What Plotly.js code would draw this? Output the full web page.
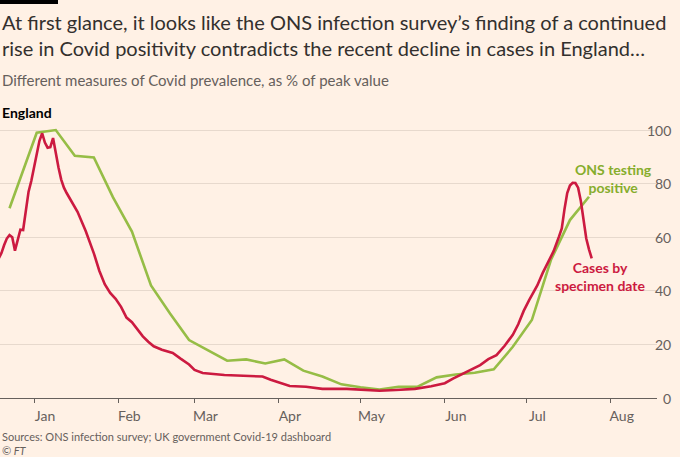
<!DOCTYPE html>
<html>
<head>
<meta charset="utf-8">
<script src="https://cdn.plot.ly/plotly-3.0.1.min.js"></script>
<style>
  html, body { margin: 0; padding: 0; background: #fff1e5; }
  #plot { width: 680px; height: 457px; }
</style>
</head>
<body>
<div id="plot"></div>
<script>
// Cases by specimen date, % of peak
var casesDates = [
  '2020-12-19','2020-12-20','2020-12-21','2020-12-22','2020-12-23','2020-12-24','2020-12-25',
  '2020-12-26','2020-12-27','2020-12-28','2020-12-29','2020-12-30','2020-12-31','2021-01-01',
  '2021-01-02','2021-01-03','2021-01-04','2021-01-05','2021-01-06','2021-01-07','2021-01-08',
  '2021-01-09','2021-01-10','2021-01-11','2021-01-12','2021-01-13','2021-01-15','2021-01-17',
  '2021-01-20','2021-01-22','2021-01-23','2021-01-25','2021-01-27','2021-01-29','2021-01-31',
  '2021-02-02','2021-02-04','2021-02-06','2021-02-08','2021-02-10','2021-02-12','2021-02-14',
  '2021-02-17','2021-02-21','2021-02-24','2021-02-27','2021-03-01','2021-03-04','2021-03-12',
  '2021-03-19','2021-03-26','2021-03-29','2021-04-01','2021-04-05','2021-04-11','2021-04-17',
  '2021-04-26','2021-05-03','2021-05-08','2021-05-14','2021-05-21','2021-05-27','2021-06-01',
  '2021-06-04','2021-06-09','2021-06-14','2021-06-17','2021-06-20','2021-06-23','2021-06-26',
  '2021-06-28','2021-06-30','2021-07-02','2021-07-05','2021-07-07','2021-07-09','2021-07-11',
  '2021-07-13','2021-07-14','2021-07-15','2021-07-16','2021-07-17','2021-07-18','2021-07-19',
  '2021-07-20','2021-07-21','2021-07-22','2021-07-23','2021-07-24','2021-07-25'
];
var casesValues = [
  52, 54, 57, 59.5, 60.8, 60, 55,
  59.5, 62.8, 62.7, 70.5, 77, 81, 86,
  91, 96, 98.8, 95.3, 93.4, 93.6, 97,
  91, 86, 81.5, 78.5, 76.5, 72.8, 69.5,
  62.3, 57, 54, 47.5, 42.5, 39.2, 37,
  34, 30, 28.3, 25.8, 23, 21, 19.3,
  18, 16.8, 14.6, 12.5, 10.5, 9.3, 8.6,
  8.2, 8.0, 6.8, 5.8, 4.5, 4.2, 3.4,
  3.4, 3.0, 2.7, 3.0, 3.4, 4.4, 5.5,
  7.2, 9.8, 12.3, 14.5, 16, 19.5, 23.6,
  27.5, 32.5, 36.5, 42, 46.7, 51, 54.8,
  60.3, 63.3, 70.5, 76.5, 79.3, 80.3, 80.2,
  78.5, 73.5, 66.5, 59.5, 55.5, 52.1
];

// ONS infection survey, testing positive, % of peak (weekly)
var onsDates = [
  '2020-12-23','2021-01-02','2021-01-09','2021-01-16','2021-01-23','2021-01-30','2021-02-06',
  '2021-02-13','2021-02-20','2021-02-27','2021-03-06','2021-03-13','2021-03-20','2021-03-27',
  '2021-04-03','2021-04-10','2021-04-17','2021-04-24','2021-05-01','2021-05-08','2021-05-15',
  '2021-05-22','2021-05-29','2021-06-05','2021-06-12','2021-06-19','2021-06-26','2021-07-03',
  '2021-07-10','2021-07-17','2021-07-24'
];
var onsValues = [
  70.8, 99, 100, 90.4, 89.8, 75, 62.1,
  42, 31.5, 21.6, 17.8, 13.9, 14.4, 12.9,
  14.4, 10.2, 8.0, 5.1, 4.0, 3.2, 4.2,
  4.2, 7.7, 8.8, 9.4, 10.7, 19.1, 29.1,
  51.5, 66.4, 75.1
];

var monthTicks = ['2021-01-01','2021-02-01','2021-03-01','2021-04-01','2021-05-01','2021-06-01','2021-07-01','2021-08-01'];
var monthLabels = ['Jan','Feb','Mar','Apr','May','Jun','Jul','Aug'];
var yTicks = [0, 20, 40, 60, 80, 100];

var FONT = 'Lato, "Open Sans", sans-serif';
var GREY = '#66605c';
var RED = '#cc1a40';
var GREEN = '#96bd46';

// pixel helpers for text placed outside the plot area
var L = 0, R = 23, T = 122, B = 59, W = 680, H = 457;
var plotW = W - L - R, plotH = H - T - B;
function px(x) { return (x - L) / plotW; }
function py(y) { return (H - B - y) / plotH; }

var data = [
  {
    x: onsDates, y: onsValues, type: 'scatter', mode: 'lines',
    line: {color: GREEN, width: 2.6}, hoverinfo: 'skip'
  },
  {
    x: casesDates, y: casesValues, type: 'scatter', mode: 'lines',
    line: {color: RED, width: 2.6}, hoverinfo: 'skip'
  }
];

var annotations = [
  {text: 'At first glance, it looks like the ONS infection survey’s finding of a continued<br>rise in Covid positivity contradicts the recent decline in cases in England…',
   x: px(0), y: py(8), xanchor: 'left', yanchor: 'top', align: 'left',
   font: {family: FONT, size: 20, color: '#33302e'}},
  {text: 'Different measures of Covid prevalence, as % of peak value',
   x: px(0), y: py(80), xanchor: 'left', yanchor: 'middle',
   font: {family: FONT, size: 15, color: GREY}},
  {text: '<b>England</b>',
   x: px(0), y: py(112), xanchor: 'left', yanchor: 'middle',
   font: {family: FONT, size: 14, color: '#000000'}},
  {text: 'Sources: ONS infection survey; UK government Covid-19 dashboard<br><i>© FT</i>',
   x: px(0), y: py(443), xanchor: 'left', yanchor: 'middle', align: 'left',
   font: {family: FONT, size: 11, color: GREY}},
  {text: '<b>ONS testing<br>positive</b>', x: px(613), y: py(178.5), xanchor: 'center', yanchor: 'middle',
   align: 'center', font: {family: FONT, size: 14, color: '#86ad2c'}},
  {text: '<b>Cases by<br>specimen date</b>', x: px(600), y: py(276), xanchor: 'center', yanchor: 'middle',
   align: 'center', font: {family: FONT, size: 14, color: RED}}
];

// y tick labels, right aligned against the right edge like the original
yTicks.forEach(function(v) {
  annotations.push({
    text: String(v), xref: 'paper', yref: 'y', x: px(673), y: v,
    xanchor: 'right', yanchor: 'middle', showarrow: false,
    font: {family: FONT, size: 14, color: GREY}
  });
});
annotations.forEach(function(a) {
  a.showarrow = false;
  if (!a.xref) a.xref = 'paper';
  if (!a.yref) a.yref = 'paper';
});

var layout = {
  width: W, height: H,
  margin: {l: L, r: R, t: T, b: B, pad: 0},
  paper_bgcolor: '#fff1e5',
  plot_bgcolor: '#fff1e5',
  showlegend: false,
  xaxis: {
    type: 'date',
    range: ['2020-12-19 12:00', '2021-08-18'],
    tickvals: monthTicks, ticktext: monthLabels,
    ticks: 'outside', ticklen: 4, tickcolor: GREY, tickwidth: 1,
    showline: true, linecolor: GREY, linewidth: 1,
    showgrid: false, zeroline: false,
    ticklabelshift: 11, ticklabelstandoff: 1,
    tickfont: {family: FONT, size: 14, color: GREY},
    fixedrange: true
  },
  yaxis: {
    range: [0, 103],
    tickvals: yTicks,
    showticklabels: false,
    showgrid: true, gridcolor: '#e7d9cd', gridwidth: 1,
    zeroline: false, ticks: '',
    fixedrange: true
  },
  shapes: [
    {type: 'rect', xref: 'paper', yref: 'paper', x0: px(0), x1: px(58), y0: py(4), y1: py(0),
     fillcolor: '#000000', line: {width: 0}}
  ],
  annotations: annotations
};

Plotly.newPlot('plot', data, layout, {displayModeBar: false, staticPlot: true});
</script>
</body>
</html>
